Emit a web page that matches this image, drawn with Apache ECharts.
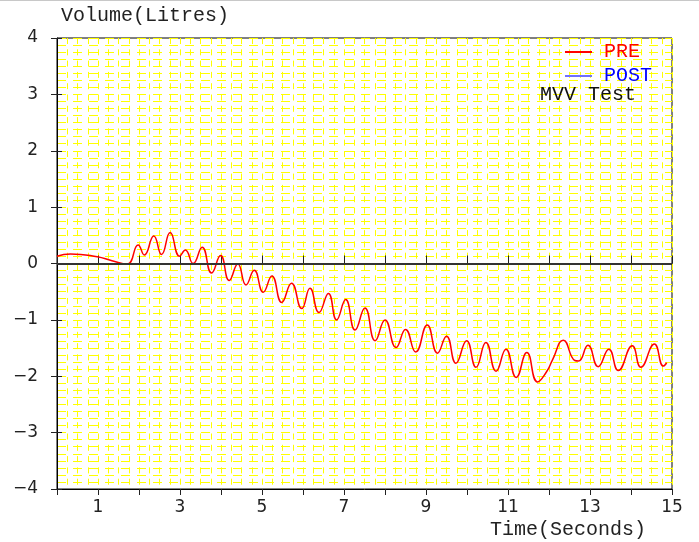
<!DOCTYPE html>
<html>
<head>
<meta charset="utf-8">
<title>MVV Test</title>
<script src="https://cdn.jsdelivr.net/npm/echarts@6/dist/echarts.min.js"></script>
<style>
    html, body { margin: 0; padding: 0; background: #fff; }
    #chart { width: 699px; height: 542px; }
</style>
</head>
<body>
<div id="chart"></div>
<script>
// 数据
var timeValues = [0, 0.33, 0.98, 1.34, 1.71, 1.98, 2.13, 2.36, 2.55, 2.76, 2.99, 3.13, 3.32, 3.54,
    3.77, 3.99, 4.20, 4.41, 4.61, 4.81, 5.03, 5.24, 5.48, 5.72, 5.97, 6.17, 6.39, 6.62, 6.82,
    7.04, 7.27, 7.51, 7.76, 8.00, 8.27, 8.50, 8.75, 9.03, 9.28, 9.50, 9.73, 9.99, 10.22, 10.46,
    10.71, 10.95, 11.20, 11.46, 11.72, 11.94, 12.08, 12.35, 12.63, 12.72, 12.95, 13.20, 13.46,
    13.69, 14.03, 14.24, 14.57, 14.79, 14.87];
var preValues = [0.13, 0.17, 0.12, 0.05, -0.01, 0.33, 0.15, 0.49, 0.16, 0.55, 0.13, 0.24, 0.0, 0.29,
    -0.17, 0.14, -0.30, -0.01, -0.38, -0.12, -0.51, -0.22, -0.69, -0.35, -0.80, -0.44, -0.87, -0.53, -1.00,
    -0.64, -1.18, -0.79, -1.37, -1.00, -1.49, -1.17, -1.57, -1.09, -1.59, -1.29, -1.77, -1.37, -1.84, -1.40,
    -1.91, -1.52, -2.02, -1.58, -2.10, -1.92, -1.72, -1.36, -1.72, -1.73, -1.45, -1.83, -1.52,
    -1.90, -1.46, -1.84, -1.43, -1.82, -1.76];
var postValues = [];
var xTickLabels = ['', '1', '', '3', '', '5', '', '7', '', '9', '', '11', '', '13', '', '15'];
var yTickLabels = ['\u22124', '\u22123', '\u22122', '\u22121', '0', '1', '2', '3', '4'];

var monoFont = '"Liberation Mono", "DejaVu Sans Mono", monospace';
var sansFont = '"DejaVu Sans", sans-serif';
// 网格虚线
var vDash = { color: '#ffff00', width: 1, type: [6, 5.3] };
var hDash = { color: '#ffff00', width: 1, type: [9, 7] };

var preData = [];
for (var i = 0; i < timeValues.length; i++) {
    preData.push([timeValues[i], preValues[i]]);
}

var myChart = echarts.init(document.getElementById('chart'));

var option = {
    animation: false,
    backgroundColor: '#fff',
    title: [
        { text: 'Volume(Litres)', left: 56, top: 1,
          textStyle: { fontFamily: monoFont, fontSize: 20, fontWeight: 'normal', color: '#222' } },
        { text: 'Time(Seconds)', left: 485, top: 515,
          textStyle: { fontFamily: monoFont, fontSize: 20, fontWeight: 'normal', color: '#222' } },
        { text: 'MVV Test', left: 535, top: 80,
          textStyle: { fontFamily: monoFont, fontSize: 20, fontWeight: 'normal', color: '#111' } }
    ],
    legend: {
        orient: 'vertical',
        left: 560,
        top: 37,
        itemWidth: 27,
        itemHeight: 2,
        itemGap: 4,
        icon: 'rect',
        data: [
            { name: 'PRE', textStyle: { color: '#ff0000' } },
            { name: 'POST', textStyle: { color: '#0000ff' } }
        ],
        textStyle: { fontFamily: monoFont, fontSize: 20, lineHeight: 20, padding: [0, 0, 0, 7] }
    },
    grid: {
        left: 57, right: 27, top: 38, bottom: 53,
        show: true, borderColor: '#000', borderWidth: 1, backgroundColor: 'transparent'
    },
    xAxis: [
        {
            type: 'value', min: 0, max: 15, interval: 1,
            axisLine: { show: true, onZero: false, lineStyle: { color: '#000', width: 1 } },
            axisTick: { show: true, inside: false, length: 6, lineStyle: { color: '#222' } },
            axisLabel: {
                margin: 10, color: '#222', fontFamily: sansFont, fontSize: 17,
                formatter: function (v) { return xTickLabels[Math.round(v)] || ''; }
            },
            splitLine: { show: true, lineStyle: vDash },
            minorTick: { show: false, splitNumber: 4 },
            minorSplitLine: { show: true, lineStyle: vDash }
        },
        {
            type: 'value', min: 0, max: 15, interval: 1, position: 'bottom',
            axisLine: { show: false },
            axisTick: { show: true, inside: true, length: 8, lineStyle: { color: '#222' } },
            axisLabel: { show: false },
            splitLine: { show: false }
        }
    ],
    yAxis: [
        {
            type: 'value', min: -4, max: 4, interval: 1,
            axisLine: { show: true, onZero: false, lineStyle: { color: '#000', width: 1 } },
            axisTick: { show: true, inside: false, length: 6, lineStyle: { color: '#222' } },
            axisLabel: {
                margin: 19, color: '#222', fontFamily: sansFont, fontSize: 17,
                formatter: function (v) { return yTickLabels[Math.round(v) + 4]; }
            },
            splitLine: { show: true, lineStyle: hDash },
            minorTick: { show: false, splitNumber: 8 },
            minorSplitLine: { show: true, lineStyle: hDash }
        },
        {
            type: 'value', min: -4, max: 4, interval: 1, position: 'left',
            axisLine: { show: false },
            axisTick: { show: true, inside: true, length: 5, lineStyle: { color: '#222' } },
            axisLabel: { show: false },
            splitLine: { show: false }
        }
    ],
    series: [
        {
            name: 'PRE',
            type: 'line',
            data: preData,
            smooth: 0.5,
            symbol: 'none',
            color: '#ff0000',
            lineStyle: { color: '#ff0000', width: 1.5 },
            markLine: {
                silent: true,
                symbol: 'none',
                label: { show: false },
                lineStyle: { color: '#333', width: 2, type: 'solid' },
                data: [{ yAxis: 0 }]
            },
            z: 3
        },
        {
            name: 'POST',
            type: 'line',
            data: postValues,
            symbol: 'none',
            color: '#7070ff',
            lineStyle: { color: '#7070ff', width: 1.5 }
        }
    ],
    graphic: [
        { type: 'rect', shape: { x: 0, y: 0, width: 699, height: 1 }, style: { fill: '#c8c8c8' } }
    ]
};

if (option && typeof option === 'object') {
    myChart.setOption(option);
}

window.addEventListener('resize', function () {
    myChart.resize();
});
</script>
</body>
</html>
